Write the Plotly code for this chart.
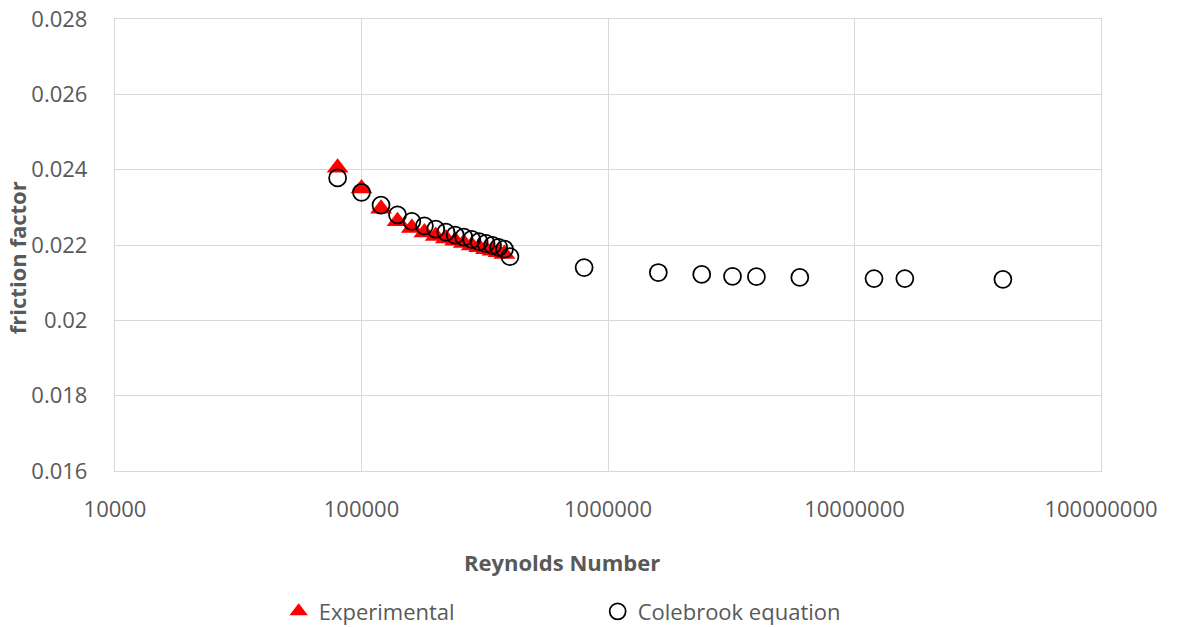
import plotly.graph_objects as go

# Reynolds numbers and friction factors
re_exp = [80000, 100000, 120000, 140000, 160000, 180000, 200000, 220000,
          240000, 260000, 280000, 300000, 320000, 340000, 360000, 380000]
f_exp = [0.02405, 0.02350, 0.02296, 0.02263, 0.02245, 0.02233, 0.02224, 0.02217,
         0.02211, 0.02205, 0.02199, 0.02194, 0.02189, 0.02185, 0.02181, 0.02176]

re_cb = [80000, 100000, 120000, 140000, 160000, 180000, 200000, 220000, 240000,
         260000, 280000, 300000, 320000, 340000, 360000, 380000, 400000,
         800000, 1600000, 2400000, 3200000, 4000000, 6000000, 12000000,
         16000000, 40000000]
f_cb = [0.02378, 0.02340, 0.02306, 0.02280, 0.02263, 0.02251, 0.02242, 0.02234,
        0.02226, 0.02221, 0.02215, 0.02209, 0.02204, 0.02199, 0.02194, 0.02189,
        0.02169, 0.02140, 0.02127, 0.02122, 0.02117, 0.02116, 0.02114, 0.02111,
        0.02111, 0.02109]

x_ticks = [10000, 100000, 1000000, 10000000, 100000000]
x_tick_text = ["10000", "100000", "1000000", "10000000", "100000000"]
y_ticks = [0.016, 0.018, 0.020, 0.022, 0.024, 0.026, 0.028]
y_tick_text = ["0.016", "0.018", "0.02", "0.022", "0.024", "0.026", "0.028"]

FONT = "Open Sans"
GREY = "#595959"
GRID = "#d9d9d9"

fig = go.Figure()
fig.add_trace(go.Scatter(
    x=re_exp, y=f_exp, mode="markers", name="Experimental",
    marker=dict(symbol="triangle-up", size=19, color="#ff0000",
                line=dict(width=0)),
))
fig.add_trace(go.Scatter(
    x=re_cb, y=f_cb, mode="markers", name="Colebrook equation",
    marker=dict(symbol="circle-open", size=17, color="#000000",
                line=dict(width=1.75, color="#000000")),
))

fig.update_layout(
    width=1181, height=627,
    margin=dict(l=115, r=80, t=19, b=156, autoexpand=False),
    paper_bgcolor="white", plot_bgcolor="white",
    font=dict(family=FONT, size=22, color=GREY),
    showlegend=True,
    legend=dict(orientation="h", x=0.166, xanchor="left", y=-0.311,
                yanchor="middle", font=dict(size=22, color=GREY),
                entrywidth=274, entrywidthmode="pixels",
                bgcolor="rgba(0,0,0,0)"),
    xaxis=dict(type="log", range=[4, 8], tickvals=x_ticks, ticktext=x_tick_text,
               showgrid=True, gridcolor=GRID, gridwidth=1.3,
               showline=True, linecolor=GRID, linewidth=1.3, mirror=True,
               ticks="", ticklabelstandoff=18, zeroline=False, automargin=False,
               tickfont=dict(size=22, color=GREY)),
    yaxis=dict(range=[0.016, 0.028], tickvals=y_ticks, ticktext=y_tick_text,
               showgrid=True, gridcolor=GRID, gridwidth=1.3,
               showline=True, linecolor=GRID, linewidth=1.3, mirror=True,
               ticks="", ticklabelstandoff=22, zeroline=False, automargin=False,
               tickfont=dict(size=22, color=GREY)),
    annotations=[
        dict(text="<b>Reynolds Number</b>", xref="paper", yref="paper",
             x=0.4535, y=-0.202, xanchor="center", yanchor="middle",
             showarrow=False, font=dict(size=22, color=GREY)),
        dict(text="<b>friction factor</b>", xref="paper", yref="paper",
             x=-0.0994, y=0.473, xanchor="center", yanchor="middle",
             textangle=-90, showarrow=False, font=dict(size=22, color=GREY)),
    ],
)

fig.write_html("out.html")
